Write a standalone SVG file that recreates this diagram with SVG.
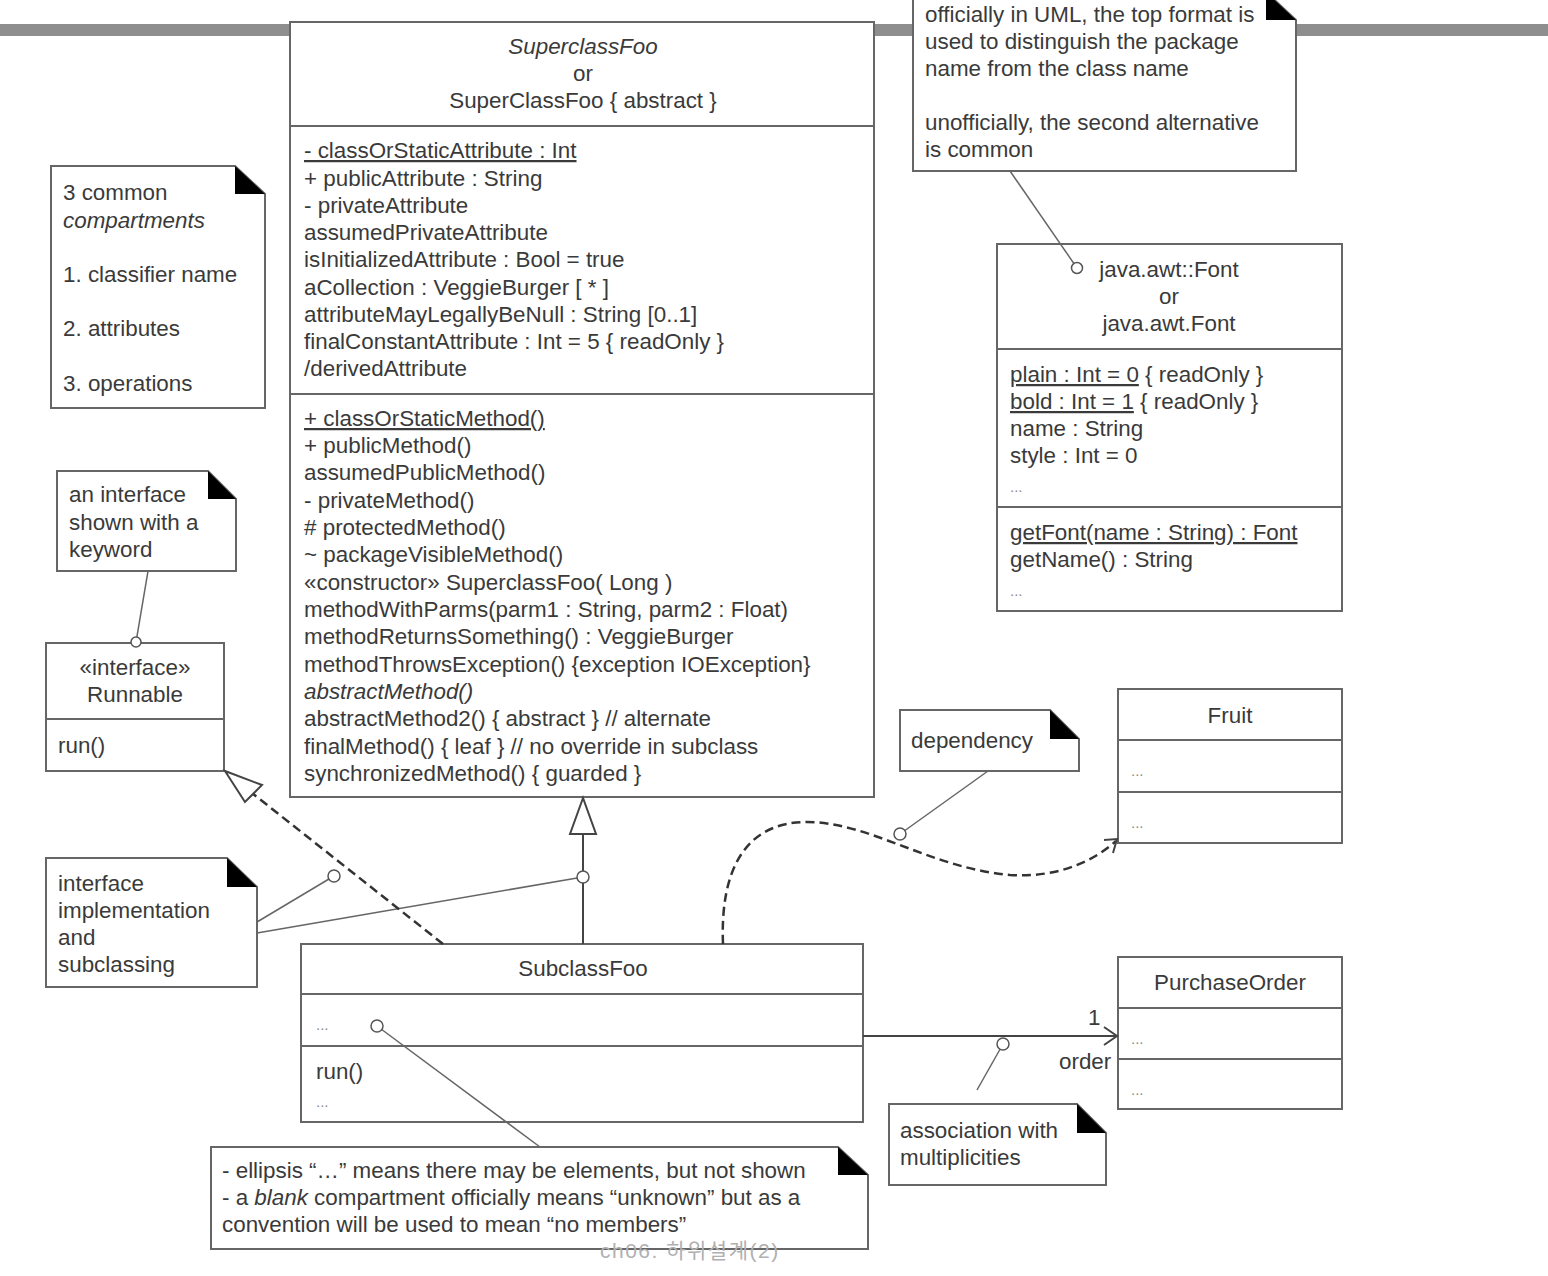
<svg xmlns="http://www.w3.org/2000/svg" width="1548" height="1276" viewBox="0 0 1548 1276">
<style>
text{font-family:"Liberation Sans",Arial,sans-serif;font-size:22.4px;fill:#3a3a3a}
.c{text-anchor:middle}
.i{font-style:italic}
.u{text-decoration:underline}
.box{fill:#fff;stroke:#666;stroke-width:2}
.div{stroke:#666;stroke-width:2}
.note{fill:#fff;stroke:#666;stroke-width:2}
.fold{fill:#000}
.ln{fill:none;stroke:#666;stroke-width:1.5}
.dash{fill:none;stroke:#333;stroke-width:2.5;stroke-dasharray:9 5}
.pin{fill:#fff;stroke:#555;stroke-width:1.5}
.arr{fill:none;stroke:#444;stroke-width:2}
.tri{fill:#fff;stroke:#444;stroke-width:2}
.dots{font-size:15px;fill:#8a8a8a}
</style>
<rect x="0" y="0" width="1548" height="1276" fill="#fff"/>
<rect x="0" y="24" width="1548" height="12" fill="#8e8e8e"/>

<g id="superclass">
  <rect class="box" x="290" y="22" width="584" height="775"/>
  <line class="div" x1="290" y1="126" x2="874" y2="126"/>
  <line class="div" x1="290" y1="394" x2="874" y2="394"/>
  <text class="c i" x="583" y="54">SuperclassFoo</text>
  <text class="c" x="583" y="81">or</text>
  <text class="c" x="583" y="108">SuperClassFoo { abstract }</text>
  <text x="304" y="158" class="u">- classOrStaticAttribute : Int</text>
  <text x="304" y="186">+ publicAttribute : String</text>
  <text x="304" y="213">- privateAttribute</text>
  <text x="304" y="240">assumedPrivateAttribute</text>
  <text x="304" y="267">isInitializedAttribute : Bool = true</text>
  <text x="304" y="295">aCollection : VeggieBurger [ * ]</text>
  <text x="304" y="322">attributeMayLegallyBeNull  : String [0..1]</text>
  <text x="304" y="349">finalConstantAttribute : Int = 5  { readOnly }</text>
  <text x="304" y="376">/derivedAttribute</text>
  <text x="304" y="426" class="u">+ classOrStaticMethod()</text>
  <text x="304" y="453">+ publicMethod()</text>
  <text x="304" y="480">assumedPublicMethod()</text>
  <text x="304" y="508">- privateMethod()</text>
  <text x="304" y="535"># protectedMethod()</text>
  <text x="304" y="562">~ packageVisibleMethod()</text>
  <text x="304" y="590">«constructor» SuperclassFoo( Long )</text>
  <text x="304" y="617">methodWithParms(parm1 : String, parm2 : Float)</text>
  <text x="304" y="644">methodReturnsSomething() : VeggieBurger</text>
  <text x="304" y="672">methodThrowsException() {exception IOException}</text>
  <text x="304" y="699" class="i">abstractMethod()</text>
  <text x="304" y="726">abstractMethod2() { abstract }    // alternate</text>
  <text x="304" y="754">finalMethod() { leaf }  // no override in subclass</text>
  <text x="304" y="781">synchronizedMethod() { guarded }</text>
</g>

<g id="note-compartments">
  <polygon class="note" points="51,166 235,166 265,194 265,408 51,408"/>
  <polygon class="fold" points="235,166 235,194 265,194"/>
  <text x="63" y="200">3 common</text>
  <text x="63" y="228" class="i">compartments</text>
  <text x="63" y="282">1. classifier name</text>
  <text x="63" y="336">2. attributes</text>
  <text x="63" y="391">3. operations</text>
</g>

<g id="note-interface">
  <polygon class="note" points="57,471 208,471 236,499 236,571 57,571"/>
  <polygon class="fold" points="208,471 208,499 236,499"/>
  <text x="69" y="502">an interface</text>
  <text x="69" y="530">shown with a</text>
  <text x="69" y="557">keyword</text>
</g>

<g id="runnable">
  <rect class="box" x="46" y="643" width="178" height="128"/>
  <line class="div" x1="46" y1="719" x2="224" y2="719"/>
  <text class="c" x="135" y="675">«interface»</text>
  <text class="c" x="135" y="702">Runnable</text>
  <text x="58" y="753">run()</text>
</g>

<g id="note-impl">
  <polygon class="note" points="46,858 227,858 257,887 257,987 46,987"/>
  <polygon class="fold" points="227,858 227,887 257,887"/>
  <text x="58" y="891">interface</text>
  <text x="58" y="918">implementation</text>
  <text x="58" y="945">and</text>
  <text x="58" y="972">subclassing</text>
</g>

<g id="subclass">
  <rect class="box" x="301" y="944" width="562" height="178"/>
  <line class="div" x1="301" y1="994" x2="863" y2="994"/>
  <line class="div" x1="301" y1="1046" x2="863" y2="1046"/>
  <text class="c" x="583" y="976">SubclassFoo</text>
  <text class="dots" x="316" y="1030">...</text>
  <text x="316" y="1079">run()</text>
  <text class="dots" x="316" y="1107">...</text>
</g>

<g id="note-ellipsis">
  <polygon class="note" points="211,1147 838,1147 868,1175 868,1249 211,1249"/>
  <polygon class="fold" points="838,1147 838,1175 868,1175"/>
  <text x="222" y="1178">- ellipsis “…” means there may be elements, but not shown</text>
  <text x="222" y="1205">- a <tspan class="i">blank</tspan> compartment officially means “unknown” but as a</text>
  <text x="222" y="1232">convention will be used to mean “no members”</text>
  <text x="600" y="1258" style="fill:#b0b0b0;font-size:21px;letter-spacing:1.5px;font-family:'Liberation Sans','Noto Sans CJK KR',sans-serif">ch06. 하위설계(2)</text>
</g>

<g id="note-uml">
  <polygon class="note" points="913,-8 1266,-8 1296,20 1296,171 913,171"/>
  <polygon class="fold" points="1266,-8 1266,20 1296,20"/>
  <text x="925" y="22">officially in UML, the top format is</text>
  <text x="925" y="49">used to distinguish the package</text>
  <text x="925" y="76">name from the class name</text>
  <text x="925" y="130">unofficially, the second alternative</text>
  <text x="925" y="157">is common</text>
</g>

<g id="font">
  <rect class="box" x="997" y="244" width="345" height="367"/>
  <line class="div" x1="997" y1="349" x2="1342" y2="349"/>
  <line class="div" x1="997" y1="507" x2="1342" y2="507"/>
  <text class="c" x="1169" y="277">java.awt::Font</text>
  <text class="c" x="1169" y="304">or</text>
  <text class="c" x="1169" y="331">java.awt.Font</text>
  <text x="1010" y="382"><tspan class="u">plain : Int = 0</tspan> { readOnly }</text>
  <text x="1010" y="409"><tspan class="u">bold : Int = 1</tspan> { readOnly }</text>
  <text x="1010" y="436">name : String</text>
  <text x="1010" y="463">style : Int = 0</text>
  <text class="dots" x="1010" y="492">...</text>
  <text x="1010" y="540" class="u">getFont(name : String) : Font</text>
  <text x="1010" y="567">getName() : String</text>
  <text class="dots" x="1010" y="596">...</text>
</g>

<g id="note-dependency">
  <polygon class="note" points="900,710 1050,710 1079,739 1079,771 900,771"/>
  <polygon class="fold" points="1050,710 1050,739 1079,739"/>
  <text x="911" y="748">dependency</text>
</g>

<g id="fruit">
  <rect class="box" x="1118" y="689" width="224" height="154"/>
  <line class="div" x1="1118" y1="740" x2="1342" y2="740"/>
  <line class="div" x1="1118" y1="792" x2="1342" y2="792"/>
  <text class="c" x="1230" y="723">Fruit</text>
  <text class="dots" x="1131" y="776">...</text>
  <text class="dots" x="1131" y="828">...</text>
</g>

<g id="purchaseorder">
  <rect class="box" x="1118" y="957" width="224" height="152"/>
  <line class="div" x1="1118" y1="1008" x2="1342" y2="1008"/>
  <line class="div" x1="1118" y1="1059" x2="1342" y2="1059"/>
  <text class="c" x="1230" y="990">PurchaseOrder</text>
  <text class="dots" x="1131" y="1044">...</text>
  <text class="dots" x="1131" y="1095">...</text>
</g>

<g id="note-association">
  <polygon class="note" points="889,1104 1077,1104 1106,1133 1106,1185 889,1185"/>
  <polygon class="fold" points="1077,1104 1077,1133 1106,1133"/>
  <text x="900" y="1138">association with</text>
  <text x="900" y="1165">multiplicities</text>
</g>

<g id="connectors">
  <line class="ln" x1="148" y1="571" x2="136" y2="642"/>
  <line class="ln" x1="1010" y1="171" x2="1077" y2="268"/>
  <line class="ln" x1="257" y1="922" x2="334" y2="876"/>
  <line class="ln" x1="257" y1="933" x2="583" y2="877"/>
  <line class="ln" x1="377" y1="1026" x2="540" y2="1147"/>
  <line class="ln" x1="988" y1="771" x2="900" y2="834"/>
  <line class="ln" x1="1003" y1="1044" x2="977" y2="1090"/>
  <line class="dash" x1="443" y1="944" x2="252" y2="793"/>
  <polygon class="tri" points="225,771 262,785 245,802"/>
  <line class="arr" x1="583" y1="944" x2="583" y2="834"/>
  <polygon class="tri" points="583,798 570,834 596,834"/>
  <path class="dash" d="M723,944 C720,870 745,822 807,822 C870,822 930,868 1010,875 C1060,878 1095,860 1116,841"/>
  <polyline class="arr" points="1104,840 1117,839 1113,853"/>
  <line class="arr" x1="863" y1="1036" x2="1117" y2="1036"/>
  <polyline class="arr" points="1104,1027 1117,1036 1104,1045"/>
  <text x="1088" y="1025">1</text>
  <text x="1059" y="1069">order</text>
  <circle class="pin" cx="136" cy="642" r="5"/>
  <circle class="pin" cx="1077" cy="268" r="5.5"/>
  <circle class="pin" cx="334" cy="876" r="6"/>
  <circle class="pin" cx="583" cy="877" r="6"/>
  <circle class="pin" cx="377" cy="1026" r="6"/>
  <circle class="pin" cx="900" cy="834" r="6"/>
  <circle class="pin" cx="1003" cy="1044" r="6"/>
</g>
</svg>
